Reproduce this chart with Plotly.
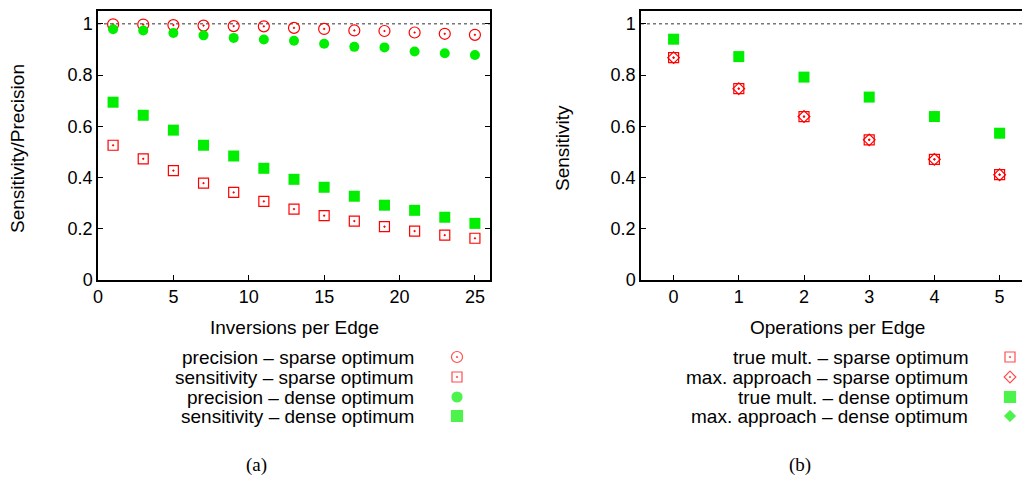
import plotly.graph_objects as go

W, H = 1022, 479

# ---- data (panel a) ----
inversions = [1, 3, 5, 7, 9, 11, 13, 15, 17, 19, 21, 23, 25]
prec_sparse = [0.998, 0.997, 0.995, 0.993, 0.991, 0.990, 0.984, 0.980, 0.974, 0.972, 0.966, 0.961, 0.957]
sens_sparse = [0.526, 0.473, 0.427, 0.378, 0.342, 0.307, 0.277, 0.251, 0.230, 0.208, 0.191, 0.175, 0.163]
prec_dense = [0.979, 0.974, 0.964, 0.955, 0.945, 0.939, 0.934, 0.922, 0.910, 0.908, 0.892, 0.885, 0.878]
sens_dense = [0.694, 0.643, 0.585, 0.526, 0.484, 0.436, 0.393, 0.362, 0.327, 0.292, 0.272, 0.245, 0.221]

# ---- data (panel b) ----
operations = [0, 1, 2, 3, 4, 5]
true_sparse = [0.868, 0.747, 0.638, 0.547, 0.471, 0.411]
maxap_sparse = [0.868, 0.747, 0.638, 0.547, 0.471, 0.411]
true_dense = [0.940, 0.872, 0.792, 0.714, 0.638, 0.573]
maxap_dense = [0.940, 0.872, 0.792, 0.714, 0.638, 0.573]

labels_a = ["precision \u2013 sparse optimum", "sensitivity \u2013 sparse optimum",
            "precision \u2013 dense optimum", "sensitivity \u2013 dense optimum"]
labels_b = ["true mult. \u2013 sparse optimum", "max. approach \u2013 sparse optimum",
            "true mult. \u2013 dense optimum", "max. approach \u2013 dense optimum"]

RED = "#ff0000"
GREEN = "#00ee00"
FONT = "Liberation Sans, Arial, sans-serif"
TXT = 19
TICK = 18

sty_a = [
    dict(symbol="circle-open-dot", color=RED, size=11, line=dict(width=1.2, color=RED)),
    dict(symbol="square-open-dot", color=RED, size=10, line=dict(width=1.2, color=RED)),
    dict(symbol="circle", color=GREEN, size=10, line=dict(width=0)),
    dict(symbol="square", color=GREEN, size=11, line=dict(width=0)),
]
sty_b = [
    dict(symbol="square-open-dot", color=RED, size=10, line=dict(width=1.2, color=RED)),
    dict(symbol="diamond-open-dot", color=RED, size=9, line=dict(width=1.2, color=RED)),
    dict(symbol="square", color=GREEN, size=11, line=dict(width=0)),
    dict(symbol="diamond", color=GREEN, size=8, line=dict(width=0)),
]

fig = go.Figure()

for ys, st, nm in zip([prec_sparse, sens_sparse, prec_dense, sens_dense], sty_a, labels_a):
    fig.add_trace(go.Scatter(x=inversions, y=ys, mode="markers", marker=st, name=nm,
                             xaxis="x", yaxis="y", showlegend=False))
for ys, st, nm in zip([true_sparse, maxap_sparse, true_dense, maxap_dense], sty_b, labels_b):
    fig.add_trace(go.Scatter(x=operations, y=ys, mode="markers", marker=st, name=nm,
                             xaxis="x2", yaxis="y2", showlegend=False))

# legend swatches on a pixel overlay axis
leg_rows = [357, 377, 397, 416]
fig.add_trace(go.Scatter(x=[457] * 4, y=leg_rows, mode="markers", xaxis="x3", yaxis="y3",
                         showlegend=False, hoverinfo="skip",
                         marker=dict(symbol=[s["symbol"] for s in sty_a],
                                     color=[s["color"] for s in sty_a],
                                     size=[11, 10, 10, 11],
                                     line=dict(width=1.2, color=[RED, RED, GREEN, GREEN]))))
fig.add_trace(go.Scatter(x=[1010] * 4, y=leg_rows, mode="markers", xaxis="x3", yaxis="y3",
                         showlegend=False, hoverinfo="skip",
                         marker=dict(symbol=[s["symbol"] for s in sty_b],
                                     color=[s["color"] for s in sty_b],
                                     size=[10, 9, 11, 8],
                                     line=dict(width=1.2, color=[RED, RED, GREEN, GREEN]))))

ydom = [(H - 280) / H, (H - 11) / H]
ax_common = dict(showgrid=False, zeroline=False, showline=True, linecolor="black", linewidth=1.5,
                 ticks="inside", ticklen=5, tickwidth=1, tickcolor="black", automargin=False,
                 tickfont=dict(family=FONT, size=TICK, color="black"))

fig.update_layout(
    template="none",
    width=W, height=H, margin=dict(l=0, r=0, t=0, b=0, pad=0), autosize=False,
    paper_bgcolor="white", plot_bgcolor="rgba(0,0,0,0)",
    xaxis=dict(domain=[98 / W, 490 / W], range=[0, 26], tickvals=[0, 5, 10, 15, 20, 25],
               mirror=True, anchor="y", **ax_common),
    yaxis=dict(domain=ydom, range=[0, 1.05], tickvals=[0, 0.2, 0.4, 0.6, 0.8, 1],
               ticktext=["0", "0.2", "0.4", "0.6", "0.8", "1"],
               mirror="ticks", anchor="x", **ax_common),
    xaxis2=dict(domain=[641 / W, 1.0], range=[-0.5, -0.5 + (W - 641) / 65.2],
                tickvals=[0, 1, 2, 3, 4, 5], mirror=True, anchor="y2", **ax_common),
    yaxis2=dict(domain=ydom, range=[0, 1.05], tickvals=[0, 0.2, 0.4, 0.6, 0.8, 1],
                ticktext=["0", "0.2", "0.4", "0.6", "0.8", "1"],
                mirror=False, anchor="x2", **ax_common),
    xaxis3=dict(domain=[0, 1], range=[0, W], visible=False, fixedrange=True, anchor="y3", automargin=False),
    yaxis3=dict(domain=[0, 1], range=[H, 0], visible=False, fixedrange=True, anchor="x3", automargin=False),
)

# dotted reference lines at y = 1
for xr, yr in [("x", "y"), ("x2", "y2")]:
    fig.add_shape(type="line", xref=f"{xr} domain", yref=yr, x0=0, x1=1, y0=1, y1=1,
                  line=dict(color="#777777", width=1.5, dash="dot"), layer="below")

def ann(text, x, y, size=TXT, xanchor="center", family=FONT, angle=0):
    fig.add_annotation(text=text, x=x / W, y=1 - y / H, xref="paper", yref="paper",
                       showarrow=False, xanchor=xanchor, yanchor="middle", textangle=angle,
                       font=dict(family=family, size=size, color="black"))

ann("Inversions per Edge", 294, 327)
ann("Operations per Edge", 837, 327)
ann("Sensitivity/Precision", 18, 149, angle=-90)
ann("Sensitivity", 562, 148, angle=-90)
for lab, yy in zip(labels_a, leg_rows):
    ann(lab, 416, yy, xanchor="right")
for lab, yy in zip(labels_b, leg_rows):
    ann(lab, 970, yy, xanchor="right")
ann("(a)", 256, 465, size=19, family="Liberation Serif, Times New Roman, serif")
ann("(b)", 800, 465, size=19, family="Liberation Serif, Times New Roman, serif")

fig.write_html("out.html")
